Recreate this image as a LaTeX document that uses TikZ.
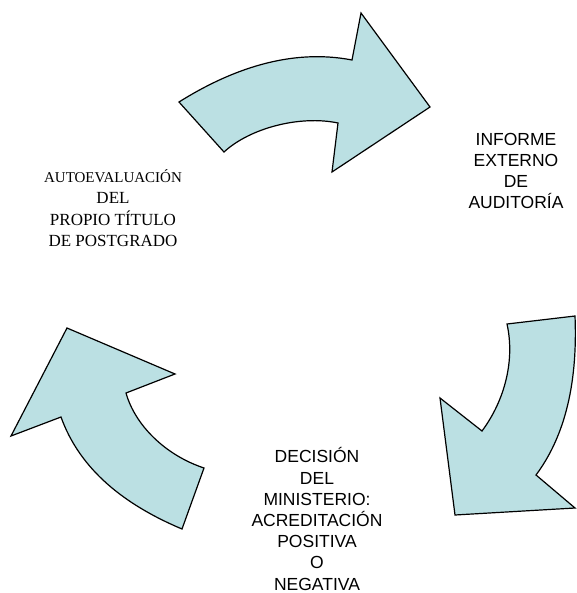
\documentclass[tikz,border=0pt]{standalone}
\usepackage{fontspec}
\setmainfont{Liberation Serif}
\newfontfamily\arialfont{Liberation Sans}
\definecolor{cyclefill}{RGB}{187,224,227}

\begin{document}
\begin{tikzpicture}[x = 1pt, y = -1pt, every node/.style = {align = center, inner sep = 0pt}, cyclearrow/.style = {draw = black, fill = cyclefill, line width = 1.2pt, line join = miter}, seriflabel/.style = {font = \fontsize{17}{21.5}\selectfont}, sanslabel/.style = {font = \arialfont\fontsize{17.5}{21.2}\selectfont}]

	\useasboundingbox (0, 0) rectangle (576, 593);

	% top arrow
	\draw[cyclearrow] (179, 102) .. controls (230, 70) and (290, 48) .. (352, 60)
		-- (361, 13) -- (430, 107) -- (332, 172) -- (338, 123)
		.. controls (300, 115) and (250, 128) .. (224, 152) -- cycle;

	% right arrow
	\draw[cyclearrow] (507, 324) -- (575, 316)
		.. controls (578, 390) and (562, 440) .. (536, 475)
		-- (575, 508) -- (455, 515) -- (440, 398) -- (482, 431)
		.. controls (505, 400) and (515, 360) .. (507, 324) -- cycle;

	% left arrow
	\draw[cyclearrow] (67, 328) -- (175, 374) -- (126, 393)
		.. controls (135, 425) and (165, 455) .. (204, 468)
		-- (182, 529)
		.. controls (125, 505) and (80, 470) .. (61, 417)
		-- (11, 436) -- cycle;

	\node (AE) at (113, 208) [seriflabel] {{\fontsize{15}{21.5}\selectfont AUTOEVALUACIÓN} \\ DEL \\ PROPIO TÍTULO \\ DE POSTGRADO};
	\node (IE) at (516, 171) [sanslabel] {INFORME \\ EXTERNO \\ DE \\ AUDITORÍA};
	\node (DM) at (317, 519) [sanslabel] {DECISIÓN \\ DEL \\ MINISTERIO: \\ ACREDITACIÓN \\ POSITIVA \\ O \\ NEGATIVA};

\end{tikzpicture}
\end{document}
